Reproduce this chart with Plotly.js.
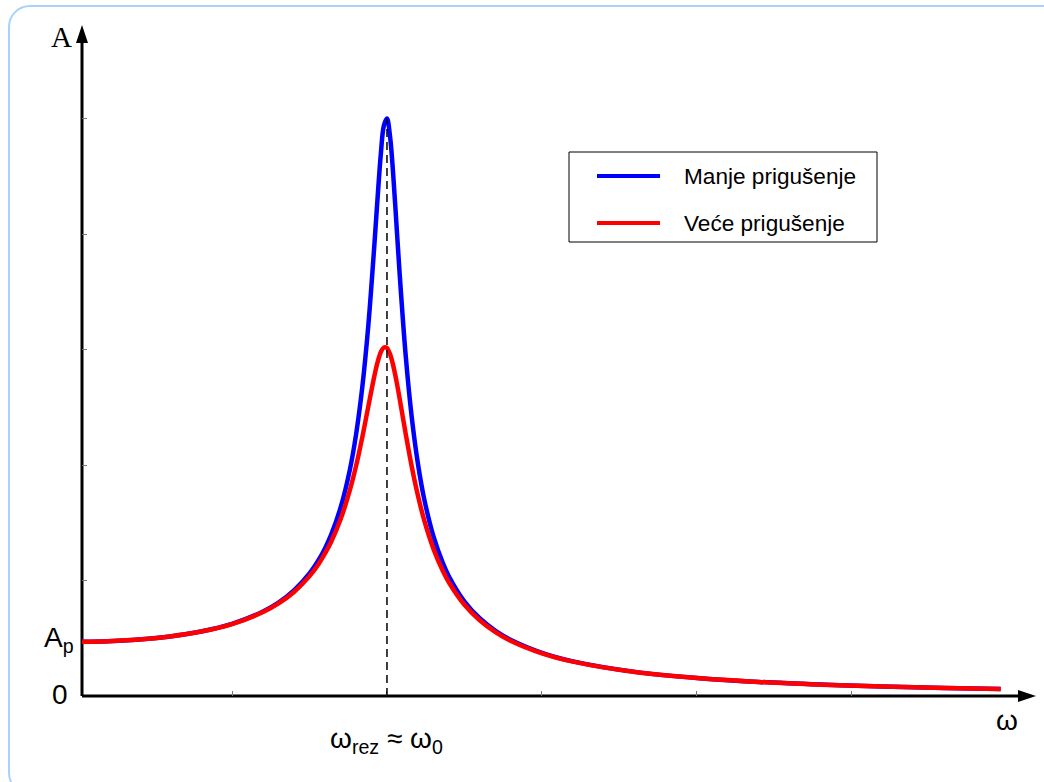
<!DOCTYPE html>
<html>
<head>
<meta charset="utf-8">
<script src="https://cdn.plot.ly/plotly-3.0.1.min.js"></script>
<style>
  html, body { margin: 0; padding: 0; width: 1044px; height: 782px; overflow: hidden; background: #ffffff; }
  #frame { position: absolute; left: 8px; top: 5px; width: 1100px; height: 790px;
           border: 2px solid #a9d2fb; border-radius: 22px; box-sizing: border-box; }
  #chart { position: absolute; left: 0; top: 0; width: 1044px; height: 782px; }
</style>
</head>
<body>
<div id="frame"></div>
<div id="chart"></div>
<script>
// ω (in units of ω0), read along the horizontal axis
const omega = [0, 0.1, 0.2, 0.3, 0.4, 0.5, 0.6, 0.65, 0.7, 0.75, 0.78, 0.8, 0.82, 0.85, 0.88, 0.9, 0.92, 0.94, 0.96, 0.97, 0.98, 0.99, 1.0,
               1.01, 1.02, 1.03, 1.04, 1.06, 1.08, 1.1, 1.12, 1.15, 1.18, 1.2, 1.25, 1.3, 1.35, 1.4, 1.5, 1.6, 1.8, 2.0, 2.2, 2.4, 2.6, 2.8, 2.98];
// Amplitude, smaller damping (blue)
const ampLow = [0.470, 0.475, 0.490, 0.516, 0.559, 0.625, 0.732, 0.809, 0.914, 1.061, 1.180, 1.278, 1.397, 1.628, 1.956, 2.260, 2.666, 3.216, 3.932, 4.325, 4.687, 4.939, 5.000,
                4.843, 4.517, 4.109, 3.691, 2.960, 2.411, 2.008, 1.707, 1.382, 1.153, 1.035, 0.818, 0.671, 0.565, 0.485, 0.374, 0.300, 0.209, 0.156, 0.122, 0.099, 0.082, 0.069, 0.060];
// Amplitude, larger damping (red)
const ampHigh = [0.470, 0.475, 0.489, 0.516, 0.558, 0.623, 0.727, 0.802, 0.901, 1.038, 1.146, 1.234, 1.336, 1.528, 1.780, 1.989, 2.236, 2.510, 2.780, 2.893, 2.976, 3.018, 3.013,
                 2.959, 2.863, 2.735, 2.588, 2.277, 1.985, 1.733, 1.523, 1.274, 1.084, 0.983, 0.790, 0.654, 0.554, 0.477, 0.370, 0.298, 0.208, 0.156, 0.122, 0.098, 0.082, 0.069, 0.060];
const seriesNames = ["Manje prigušenje", "Veće prigušenje"];
const seriesColors = ["#0000ff", "#ff0000"];
const xTicks = [0.5, 1, 1.5, 2, 2.5];
const yTicks = [1, 2, 3, 4, 5];
const omegaRes = 1.0;
const peakLow = 5.0;
const ampStatic = 0.47;

const traces = [
  { x: omega, y: ampLow, name: seriesNames[0], type: "scatter", mode: "lines",
    line: { color: seriesColors[0], width: 4.5, shape: "spline", smoothing: 1 }, showlegend: false, hoverinfo: "skip" },
  { x: omega, y: ampHigh, name: seriesNames[1], type: "scatter", mode: "lines",
    line: { color: seriesColors[1], width: 4.5, shape: "spline", smoothing: 1 }, showlegend: false, hoverinfo: "skip" }
];

// legend geometry in paper fractions (plot area 82..1036 x, 25..696 y)
const PW = 954, PH = 671, PL = 82, PT = 25;
const px = v => (v - PL) / PW;
const py = v => (PT + PH - v) / PH;

const textFont = { family: "Liberation Sans, Arial, sans-serif", size: 28, color: "#000" };
const legendFont = { family: "Liberation Sans, Arial, sans-serif", size: 22.6, color: "#000" };

const layout = {
  width: 1044, height: 782,
  margin: { l: 82, r: 8, t: 25, b: 86 },
  paper_bgcolor: "rgba(0,0,0,0)",
  plot_bgcolor: "rgba(0,0,0,0)",
  showlegend: false,
  xaxis: { range: [0.016, 3.094], showgrid: false, zeroline: false, showline: false,
           tickvals: xTicks, ticks: "inside", ticklen: 5, tickwidth: 1, tickcolor: "#777",
           showticklabels: false, fixedrange: true },
  yaxis: { range: [0, 5.81], showgrid: false, zeroline: false, showline: false,
           tickvals: yTicks, ticks: "inside", ticklen: 5, tickwidth: 1, tickcolor: "#777",
           showticklabels: false, fixedrange: true },
  shapes: [
    // axes
    { type: "line", xref: "paper", yref: "paper", x0: 0, x1: 0, y0: 0, y1: 0.98, line: { color: "#000", width: 3 }, layer: "below" },
    { type: "line", xref: "paper", yref: "paper", x0: 0, x1: 0.985, y0: 0, y1: 0, line: { color: "#000", width: 3 }, layer: "below" },
    // arrowheads
    { type: "path", xref: "paper", yref: "paper", xsizemode: "pixel", ysizemode: "pixel", xanchor: 0, yanchor: 1,
      path: "M0,0 L-6,-18 L6,-18 Z", fillcolor: "#000", line: { width: 0 } },
    { type: "path", xref: "paper", yref: "paper", xsizemode: "pixel", ysizemode: "pixel", xanchor: 1, yanchor: 0,
      path: "M0,0 L-18,6 L-18,-6 Z", fillcolor: "#000", line: { width: 0 } },
    // resonance dashed line
    { type: "line", xref: "x", yref: "y", x0: omegaRes, x1: omegaRes, y0: 0, y1: peakLow,
      line: { color: "#000", width: 1.5, dash: "8px,5px" }, layer: "above" },
    // legend box
    { type: "rect", xref: "paper", yref: "paper", x0: px(569), x1: px(877), y0: py(242), y1: py(152),
      line: { color: "#000", width: 1 }, fillcolor: "#fff", layer: "above" },
    { type: "line", xref: "paper", yref: "paper", x0: px(597), x1: px(660), y0: py(176), y1: py(176),
      line: { color: seriesColors[0], width: 4 }, layer: "above" },
    { type: "line", xref: "paper", yref: "paper", x0: px(597), x1: px(660), y0: py(223), y1: py(223),
      line: { color: seriesColors[1], width: 4 }, layer: "above" }
  ],
  annotations: [
    { xref: "paper", yref: "paper", x: px(682), y: py(176), xanchor: "left", yanchor: "middle", showarrow: false,
      text: seriesNames[0], font: legendFont },
    { xref: "paper", yref: "paper", x: px(682), y: py(223), xanchor: "left", yanchor: "middle", showarrow: false,
      text: seriesNames[1], font: legendFont },
    { xref: "paper", yref: "paper", x: px(61), y: py(37), xanchor: "center", yanchor: "middle", showarrow: false,
      text: "A", font: { family: "Liberation Serif, Times New Roman, serif", size: 29, color: "#000" } },
    { xref: "paper", yref: "y", x: px(70), y: 0, xanchor: "right", yanchor: "middle", yshift: 2, showarrow: false,
      text: "0", font: textFont },
    { xref: "paper", yref: "y", x: px(76), y: ampStatic, xanchor: "right", yanchor: "middle", yshift: 2, showarrow: false,
      text: "A<sub>p</sub>", font: textFont },
    { xref: "x", yref: "paper", x: omegaRes, y: py(740), xanchor: "center", yanchor: "middle", showarrow: false,
      text: "ω<sub>rez</sub> ≈ ω<sub>0</sub>", font: textFont },
    { xref: "paper", yref: "paper", x: px(1007), y: py(720), xanchor: "center", yanchor: "middle", showarrow: false,
      text: "ω", font: textFont }
  ]
};

Plotly.newPlot("chart", traces, layout, { displayModeBar: false, staticPlot: true });
</script>
</body>
</html>
